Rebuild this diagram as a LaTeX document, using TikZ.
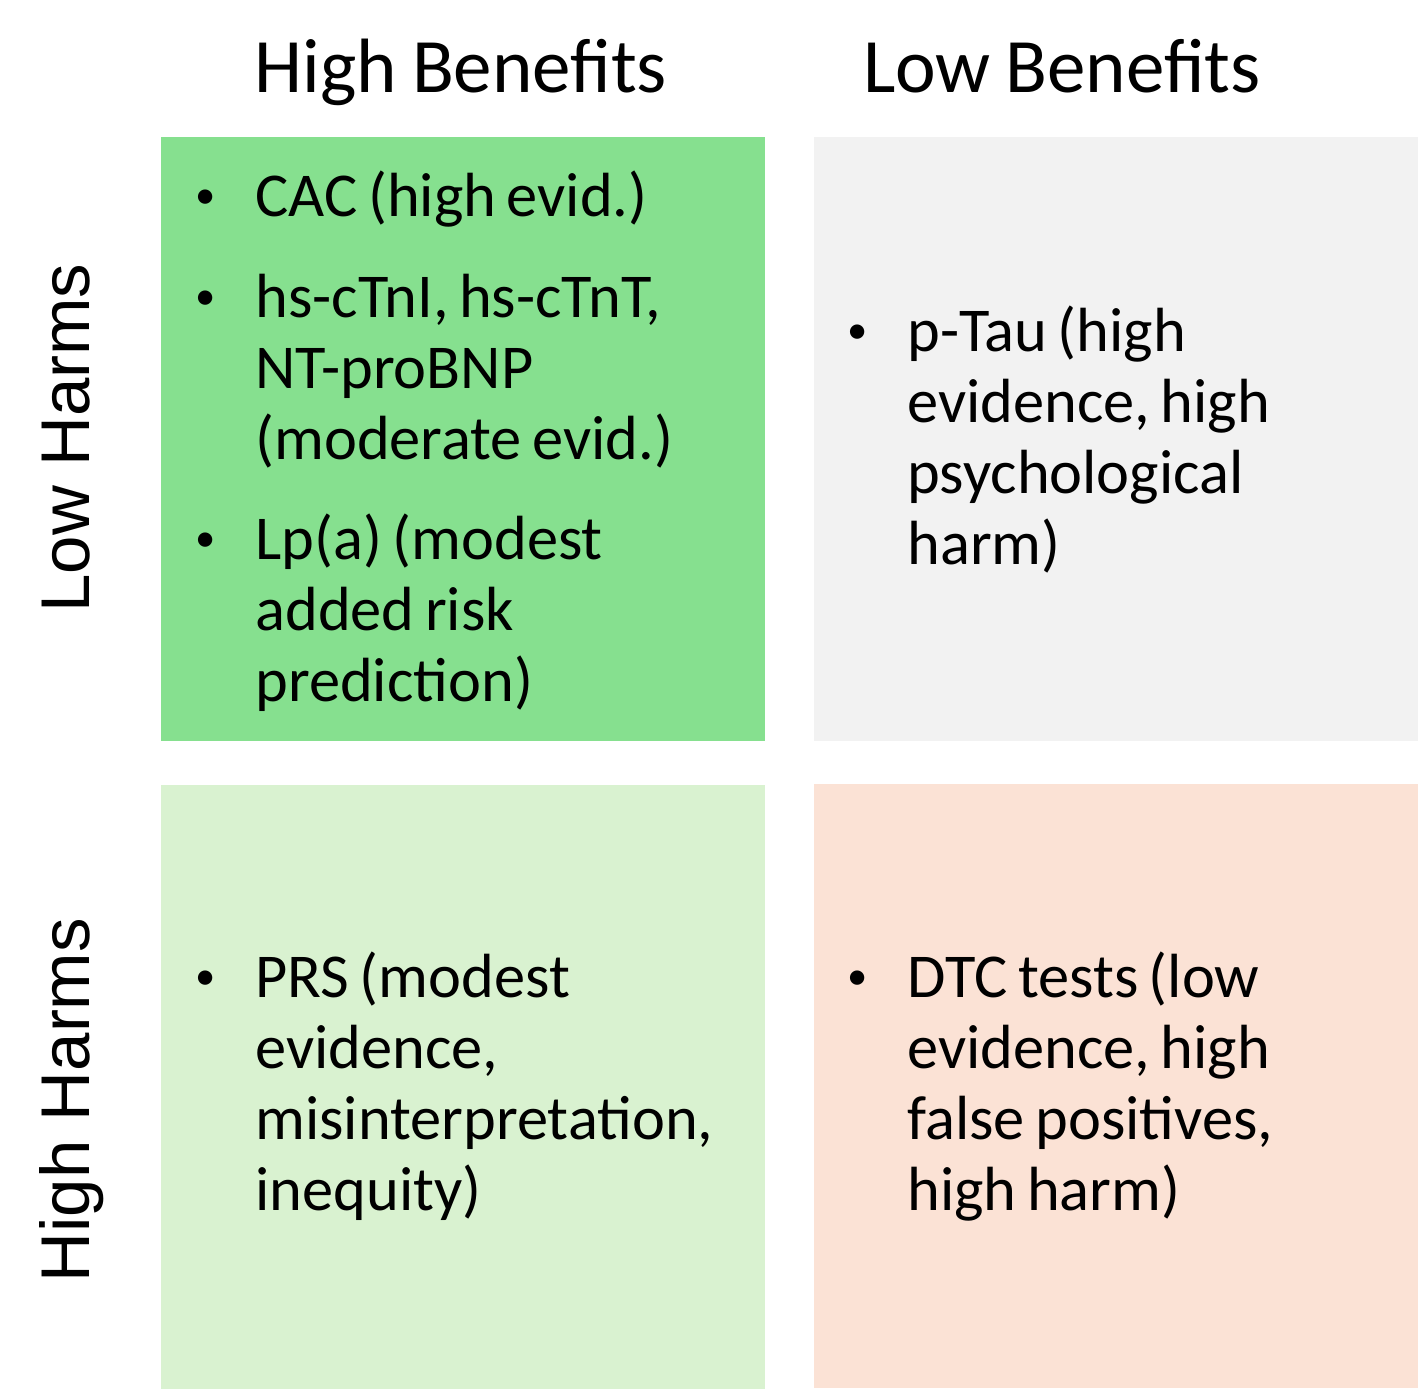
\documentclass[tikz,border=0pt]{standalone}
\usepackage{fontspec}
\setmainfont{Carlito}[WordSpace=0.85]
\newfontfamily\axisfont{Liberation Sans}
\usetikzlibrary{positioning}

\definecolor{benefitGreen}{HTML}{86E08F}
\definecolor{paleGrey}{HTML}{F2F2F2}
\definecolor{paleGreen}{HTML}{D9F2D0}
\definecolor{paleOrange}{HTML}{FBE2D5}

\newcommand{\itembullet}{\spaceskip=0.17em\relax\llap{\makebox[50pt]{\raisebox{4pt}{\scalebox{0.65}{\textbullet}}}}}

\begin{document}
\begin{tikzpicture}[x=0.5pt,y=-0.5pt,
    cell/.style={anchor=north west, minimum width=302pt, minimum height=302pt, inner sep=0pt},
    colhead/.style={anchor=base, inner sep=0pt, font=\fontsize{38.5}{46}\selectfont},
    rowhead/.style={anchor=base, rotate=90, inner sep=0pt, font=\axisfont\fontsize{34.5}{40}\selectfont},
    entry/.style={anchor=base west, inner sep=0pt, text width=260pt, align=left, font=\fontsize{31.2}{35.5}\selectfont}]
    \useasboundingbox (0,0) rectangle (1420,1388);

    % quadrants
    \node[cell, fill=benefitGreen] (lowHarmHigh) at (161,137) {};
    \node[cell, fill=paleGrey] (lowHarmLow) at (814,137) {};
    \node[cell, fill=paleGreen] (highHarmHigh) at (161,785) {};
    \node[cell, fill=paleOrange] (highHarmLow) at (814,784) {};

    % axis labels
    \node[colhead] (highBen) at (461,92) {High Benefits};
    \node[colhead] (lowBen) at (1062,92) {Low Benefits};
    \node[rowhead] (lowHarms) at (90,438) {Low Harms};
    \node[rowhead] (highHarms) at (90,1100) {High Harms};

    % low harms, high benefits
    \node[entry] (cac) at (255,216) {\itembullet CAC (high evid.)};
    \node[entry] (troponin) at (255,317) {\itembullet hs-cTnI, hs-cTnT,\\NT-proBNP\\(moderate evid.)};
    \node[entry] (lpa) at (255,559) {\itembullet Lp(a) (modest\\added risk\\prediction)};

    % low harms, low benefits
    \node[entry] (ptau) at (907,351) {\itembullet p-Tau (high\\evidence, high\\psychological\\harm)};

    % high harms
    \node[entry] (prs) at (255,997) {\itembullet PRS (modest\\evidence,\\misinterpretation,\\inequity)};
    \node[entry] (dtc) at (907,997) {\itembullet DTC tests (low\\evidence, high\\false positives,\\high harm)};
  \end{tikzpicture}
\end{document}
